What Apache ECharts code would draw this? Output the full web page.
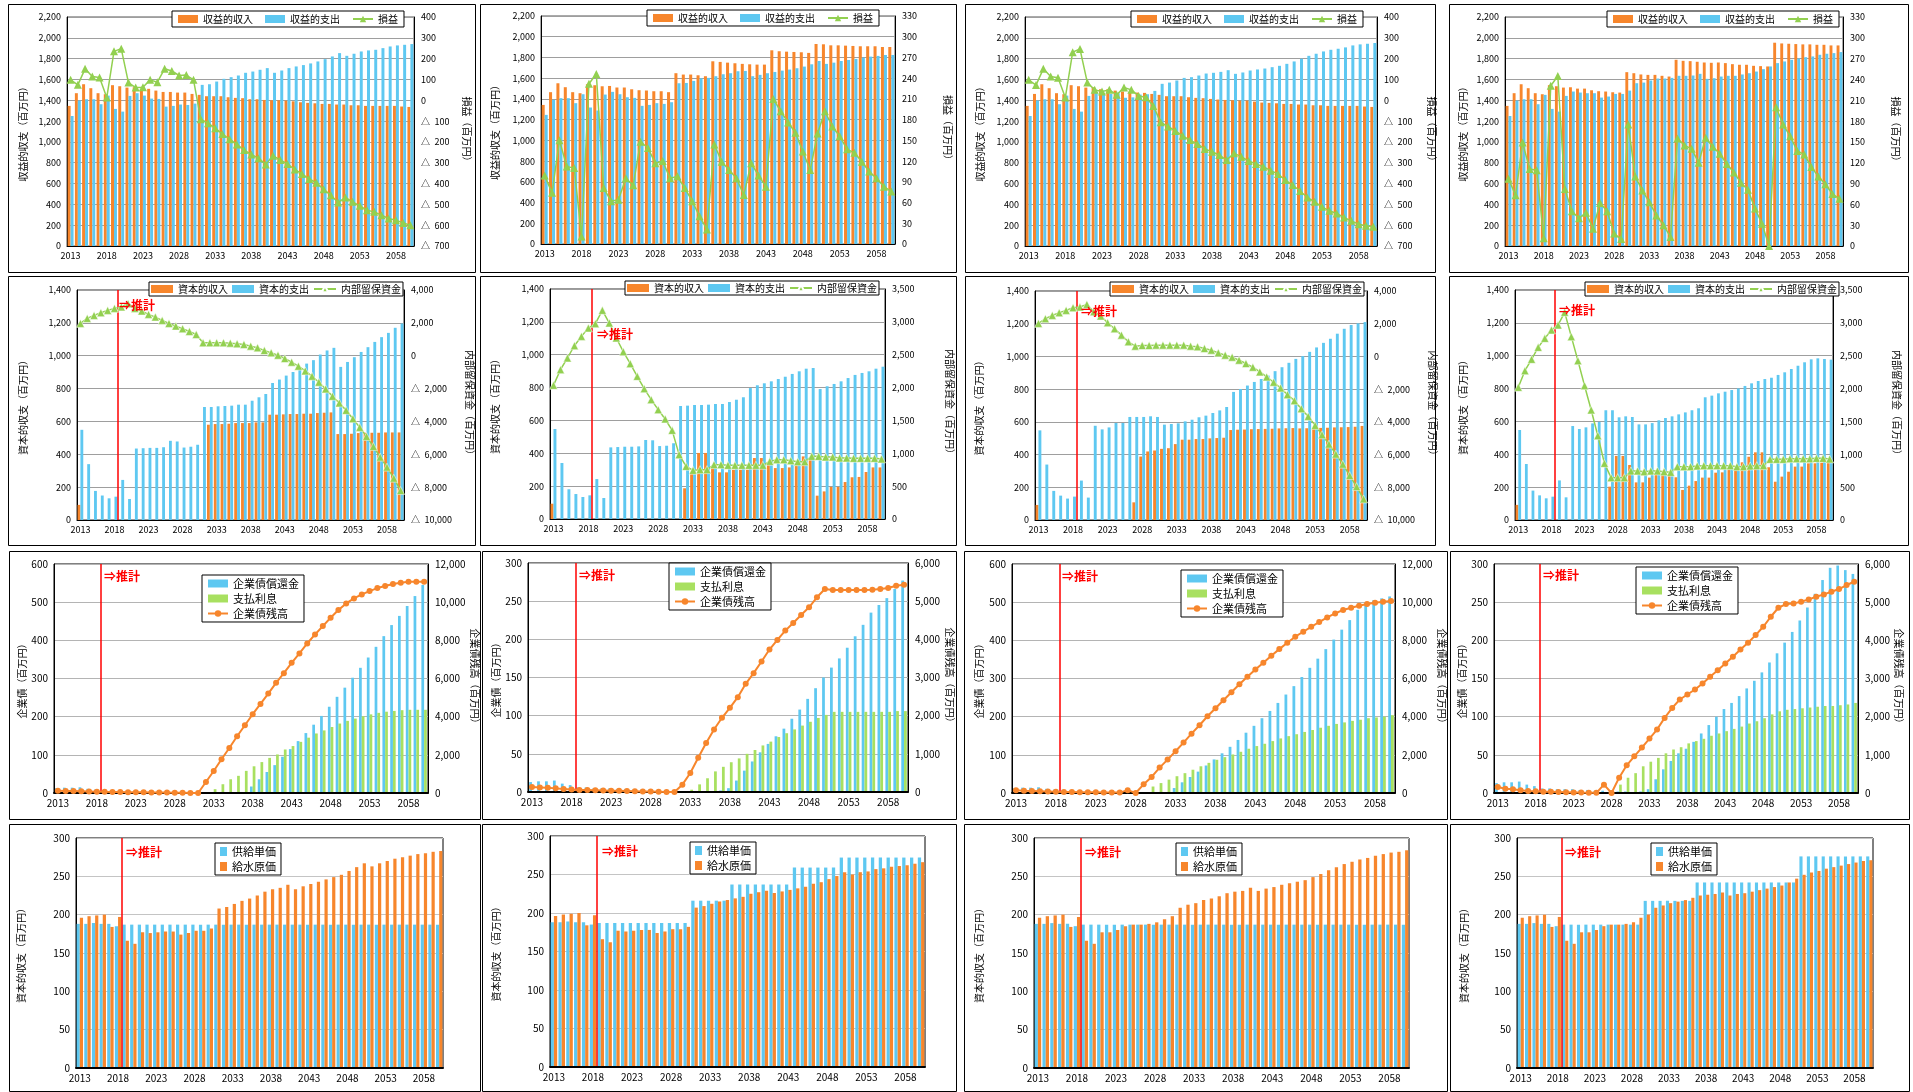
<!DOCTYPE html>
<html><head><meta charset="utf-8">
<script src="https://cdn.jsdelivr.net/npm/echarts/dist/echarts.min.js"></script>
<style>html,body{margin:0;padding:0;background:#fff;}#main{width:1913px;height:1092px;}</style>
</head><body><div id="main"></div>
<script>
const YEARS = ['2013','2014','2015','2016','2017','2018','2019','2020','2021','2022','2023','2024','2025','2026','2027','2028','2029','2030','2031','2032','2033','2034','2035','2036','2037','2038','2039','2040','2041','2042','2043','2044','2045','2046','2047','2048','2049','2050','2051','2052','2053','2054','2055','2056','2057','2058','2059','2060'];
const PROJ_BOUNDARY = 2018.5;
const EST_LABEL = '⇒推計';

// Row 1: 収益的収支
const INC_1 = [1346,1468,1554,1516,1468,1458,1545,1535,1522,1525, 1510,1510,1493,1480,1480,1474,1474,1461,1452,1439, 1439,1439,1429,1423,1420,1410,1410,1403,1400,1400, 1397,1390,1381,1375,1371,1365,1365,1359,1359,1352, 1352,1346,1346,1346,1346,1346,1340,1336];
const EXP_1 = [1249,1397,1410,1410,1362,1445,1317,1291,1442,1468, 1445,1416,1413,1339,1346,1359,1355,1368,1548,1554, 1580,1606,1622,1638,1664,1676,1693,1709,1664,1686, 1709,1725,1738,1754,1773,1795,1821,1853,1827,1847, 1869,1879,1885,1901,1917,1927,1933,1940];
const PL_1 = [98,74,151,114,109,13,235,248,85,61, 63,98,87,151,141,119,121,98,-91,-110, -134,-162,-187,-212,-239,-260,-279,-308,-266,-287, -306,-332,-354,-378,-396,-428,-456,-491,-467,-488, -507,-528,-536,-552,-568,-576,-589,-600];

const INC_2 = [1342,1465,1551,1513,1465,1455,1542,1532,1522,1525, 1510,1510,1493,1484,1481,1474,1474,1465,1648,1635, 1635,1628,1619,1763,1757,1750,1744,1738,1734,1731, 1731,1869,1860,1856,1853,1850,1844,1930,1927,1917, 1917,1914,1911,1908,1908,1908,1901,1901];
const EXP_2 = [1246,1391,1407,1407,1359,1445,1317,1288,1442,1468, 1445,1416,1410,1333,1342,1359,1352,1368,1551,1554, 1574,1599,1603,1619,1638,1648,1667,1670,1619,1632, 1648,1660,1673,1683,1696,1712,1734,1766,1738,1750, 1766,1776,1786,1798,1808,1815,1824,1824];
const PL_2 = [99,74,150,112,110,11,232,246,81,62, 64,95,85,148,139,117,120,95,98,81, 62,40,21,144,119,107,95,71,117,99, 83,210,192,176,161,134,107,160,192,170, 156,137,132,119,105,95,83,76];

const INC_3 = [1346,1461,1554,1516,1468,1458,1545,1535,1522,1525, 1506,1506,1493,1484,1474,1474,1471,1461,1452,1439, 1439,1439,1429,1423,1420,1413,1407,1403,1400,1397, 1397,1387,1378,1375,1371,1365,1365,1359,1359,1352, 1352,1346,1346,1346,1346,1346,1340,1336];
const EXP_3 = [1249,1397,1410,1410,1362,1445,1317,1291,1442,1477, 1466,1460,1467,1424,1428,1455,1458,1490,1558,1570, 1590,1615,1622,1638,1657,1664,1673,1689,1654,1667, 1686,1696,1705,1718,1731,1750,1773,1799,1827,1847, 1869,1885,1895,1908,1927,1937,1943,1950];
const PL_3 = [98,73,151,114,108,13,231,246,85,50, 42,50,26,61,50,21,15,-27,-106,-126, -147,-171,-191,-210,-234,-247,-263,-287,-255,-271, -292,-306,-319,-338,-354,-383,-407,-436,-467,-488, -512,-531,-544,-563,-579,-595,-603,-608];

const INC_4 = [1346,1468,1554,1516,1468,1458,1545,1535,1522,1525, 1512,1512,1496,1487,1484,1477,1474,1670,1660,1648, 1644,1644,1635,1628,1789,1779,1776,1770,1763,1760, 1763,1757,1747,1741,1741,1731,1728,1725,1953,1946, 1943,1940,1937,1937,1933,1933,1927,1927];
const EXP_4 = [1249,1397,1410,1410,1362,1452,1317,1291,1442,1484, 1474,1468,1468,1426,1436,1461,1461,1493,1564,1570, 1590,1609,1609,1615,1635,1635,1638,1654,1606,1612, 1628,1635,1635,1648,1660,1676,1699,1725,1757,1773, 1789,1801,1814,1821,1837,1847,1853,1863];
const PL_4 = [97,73,149,111,109,11,231,245,82,50, 40,48,25,62,50,18,10,175,100,80, 63,44,30,13,155,145,140,120,156,143, 133,118,106,91,81,54,32,0,200,175, 158,137,132,114,100,89,75,68];

// Row 2: 資本的収支
const CINC_5 = [92,0,0,0,0,0,0,0,0,0, 0,0,0,0,0,0,0,0,0,580, 584,584,586,590,590,590,594,594,641,641, 643,645,645,647,647,651,653,655,523,523, 525,529,531,531,531,533,533,533];
const CEXP_5 = [549,340,177,149,132,142,244,128,435,437, 439,439,443,482,478,441,446,458,688,688, 692,694,696,702,702,726,747,767,834,855, 879,901,926,952,973,1007,1032,1048,932,962, 991,1023,1052,1084,1113,1139,1170,1196];
const RET_5 = [1965,2271,2454,2617,2759,2881,2970,3170,2881,2718, 2515,2352,2148,1965,1803,1640,1477,1294,785,785, 785,785,765,724,684,582,480,317,175,32, -171,-395,-639,-924,-1249,-1615,-2022,-2470,-2877,-3325, -3833,-4362,-4912,-5522,-6173,-6783,-7455,-8208];

const CINC_6 = [93,0,0,0,0,0,0,0,0,0, 0,0,0,0,0,0,0,0,0,187, 284,402,402,310,284,284,300,300,300,371, 371,331,310,310,314,325,381,361,142,168, 195,195,225,254,256,286,314,314];
const CEXP_6 = [548,341,181,152,134,144,243,128,436,438, 440,440,442,481,479,444,446,461,688,690, 694,694,696,700,700,712,726,741,797,814, 826,838,852,866,883,899,915,919,791,808, 822,838,858,877,889,899,915,927];
const RET_6 = [2034,2272,2450,2637,2779,2906,2972,3175,2982,2754, 2546,2364,2171,1983,1816,1664,1522,1349,979,801, 740,751,751,827,827,817,817,817,817,817, 817,877,903,903,888,872,872,953,953,943, 943,928,928,923,923,923,923,913];

const CINC_7 = [92,0,0,0,0,0,0,0,0,0, 0,0,0,0,108,388,419,425,435,439, 464,491,491,495,495,499,501,503,550,552, 553,555,556,557,558,560,561,562,560,561, 562,563,564,566,567,568,570,575];
const CEXP_7 = [548,339,178,149,131,143,241,137,576,554, 566,593,593,630,630,630,634,630,583,587, 591,603,613,628,638,654,670,691,783,801, 822,844,862,883,910,934,961,985,1002,1028, 1055,1083,1108,1139,1169,1192,1202,1210];
const RET_7 = [2017,2303,2508,2671,2814,2978,3019,3182,2733,2467, 2058,1690,1302,893,627,668,668,689,689,689, 689,689,627,587,484,382,219,76,-47,-231, -435,-660,-946,-1253,-1580,-1928,-2336,-2704,-3195,-3665, -4217,-4789,-5362,-5975,-6588,-7283,-7957,-8714];

const CINC_8 = [92,0,0,0,0,0,0,0,0,0, 0,0,0,0,203,390,390,335,229,229, 258,278,274,270,260,183,209,237,258,258, 288,290,308,308,351,385,412,412,321,233, 264,294,325,325,345,345,349,349];
const CEXP_8 = [548,341,179,150,132,142,241,138,572,554, 564,588,597,668,668,625,631,627,582,582, 590,607,621,631,643,655,668,680,747,757, 771,781,791,801,816,832,846,858,866,883, 899,919,939,960,978,984,980,976];
const RET_8 = [2019,2272,2445,2627,2764,2891,2967,3160,2790,2424, 2044,1674,1283,862,644,644,644,746,746,735, 746,746,735,725,812,812,812,822,827,827, 827,827,827,812,812,822,827,827,923,923, 923,933,933,933,933,938,938,928];

// Row 3: 企業債
const RED_9 = [13,14,14,15,11,9,6,6,5,5, 5,4,4,3,3,3,2,2,1,0, 0,0,0,0,0,17,36,55,73,95, 115,136,157,179,202,226,252,276,302,328, 355,383,411,440,464,490,516,545];
const INT_9 = [0,0,0,0,0,0,0,0,0,0, 0,0,0,0,0,0,0,0,0,0, 10,23,36,45,58,70,81,92,101,114, 123,134,145,156,164,173,182,189,195,201, 206,210,213,215,217,218,218,218];
const BAL_9 = [120,110,100,90,80,70,60,55,50,45, 40,35,30,25,20,15,10,5,0,577, 1154,1766,2361,2973,3550,4128,4670,5212,5772,6279, 6821,7311,7835,8308,8745,9182,9585,9934,10197,10407, 10581,10739,10844,10949,11019,11071,11071,11071];

const RED_10 = [13,14,14,15,11,9,6,6,5,5, 5,4,4,3,3,3,2,2,1,0, 0,0,0,0,2,5,15,28,40,52, 63,73,83,96,108,122,136,150,163,175, 189,204,219,235,245,254,266,277];
const INT_10 = [0,0,0,0,0,0,0,0,0,0, 0,0,0,0,0,0,0,0,0,0, 3,10,18,27,33,39,44,50,55,61, 66,72,77,82,87,92,97,101,105,105, 105,105,105,105,105,105,106,106];
const BAL_10 = [130,120,110,95,80,65,55,50,45,40, 35,30,25,20,15,10,5,0,0,192, 497,898,1282,1639,1945,2206,2485,2834,3113,3418, 3732,3985,4229,4430,4639,4840,5101,5319,5293,5293, 5293,5293,5293,5302,5319,5345,5406,5432];

const RED_11 = [13,14,14,15,11,9,6,6,5,5, 5,4,4,3,3,3,2,2,1,0, 13,28,42,56,72,88,104,121,139,158, 176,196,215,236,258,280,304,328,352,377, 402,428,453,480,496,505,510,515];
const INT_11 = [0,0,0,0,0,0,0,0,0,0, 0,0,0,0,0,0,0,17,26,35, 44,52,61,70,79,87,94,101,108,116, 123,129,136,143,149,154,160,165,171,176, 181,185,189,192,196,198,200,204];
const BAL_11 = [140,120,110,95,80,65,55,50,45,40, 35,30,25,20,150,0,455,840,1330,1750, 2190,2640,3110,3550,4020,4440,4860,5280,5700,6090, 6470,6820,7190,7540,7870,8190,8450,8710,8960,9200, 9410,9590,9710,9810,9900,9970,10020,10060];

const RED_12 = [13,14,14,15,11,9,6,6,5,5, 5,4,4,3,3,3,2,2,1,2, 5,18,31,42,52,58,67,78,89,100, 110,118,127,137,147,158,171,183,197,211, 226,243,261,279,295,298,292,287];
const INT_12 = [0,0,0,0,0,0,0,0,0,0, 0,0,0,0,0,0,11,20,26,35, 41,46,52,57,60,65,68,71,75,78, 81,84,87,91,94,98,103,107,109,110, 111,112,113,114,114,115,116,118];
const BAL_12 = [157,114,96,70,52,44,35,30,25,20, 15,10,8,5,219,0,402,726,962,1189, 1426,1662,1968,2230,2449,2580,2711,2869,3044,3219, 3393,3568,3761,3936,4137,4355,4618,4854,4950,4968, 5011,5073,5143,5204,5274,5344,5449,5536];

// Row 4: 供給単価 / 給水原価
const SUP_13 = [188,188,189,188,188,185,187,187,187,187, 187,187,187,187,187,187,187,187,187,187, 187,187,187,187,187,187,187,187,187,187, 187,187,187,187,187,187,187,187,187,187, 187,187,187,187,187,187,187,187];
const COST_13 = [196,198,199,200,184,197,166,162,177,176, 177,178,178,174,176,179,179,182,208,210, 214,218,221,225,230,233,235,239,233,237, 240,243,246,249,252,257,262,267,263,267, 270,273,275,277,279,280,282,283];
const SUP_14 = [188,188,189,188,188,185,187,187,187,187, 187,187,187,187,187,187,187,187,216,216, 216,216,216,237,237,237,237,237,237,237, 237,259,259,259,259,259,259,272,272,272, 272,272,272,272,272,272,272,272];
const COST_14 = [196,198,199,200,184,197,166,162,177,176, 177,178,178,174,176,179,179,182,207,209, 212,215,217,219,221,225,227,229,226,228, 230,232,234,238,240,244,248,253,250,253, 254,257,258,260,261,262,264,266];
const SUP_15 = [188,188,189,188,188,185,187,187,187,187, 187,187,187,187,187,187,187,187,187,187, 187,187,187,187,187,187,187,187,187,187, 187,187,187,187,187,187,187,187,187,187, 187,187,187,187,187,187,187,187];
const COST_15 = [196,198,199,200,184,197,166,162,177,177, 180,185,187,187,188,190,194,198,209,213, 215,219,221,224,228,230,231,235,231,234, 236,239,241,243,245,249,253,258,262,266, 269,272,274,277,279,281,282,284];
const SUP_16 = [188,188,189,188,188,185,187,187,187,187, 187,187,187,187,187,187,187,218,218,218, 218,218,218,218,242,242,242,242,242,242, 242,242,242,242,242,242,242,242,276,276, 276,276,276,276,276,276,276,276];
const COST_16 = [196,198,199,200,184,197,166,162,177,177, 180,185,187,187,188,190,196,200,209,212, 215,217,219,222,225,226,227,229,225,227, 228,230,232,234,236,238,242,247,252,255, 257,260,262,264,266,268,270,271];

// ---------------- styling / layout ----------------
const FONT = '"Noto Sans CJK JP","Noto Sans",sans-serif';
const COL = {orange:'#F7862C', blue:'#5EC8F1', green:'#92D050', greenBar:'#A8E060', red:'#FF0000'};
const fmt = v => (v < 0 ? '△\u2002' : '') + Math.abs(v).toLocaleString('en-US');

const option = {animation:false, backgroundColor:'#fff', textStyle:{fontFamily:FONT},
  grid:[], xAxis:[], yAxis:[], series:[], legend:[], graphic:[]};

function addPanel(c) {
  const gi = option.grid.length;
  option.grid.push({left:c.g[0], top:c.g[1], width:c.g[2], height:c.g[3], show:true,
    borderColor:c.border, borderWidth:1, outerBoundsMode:'none', containLabel:false});
  const xi = option.xAxis.length;
  option.xAxis.push({type:'category', gridIndex:gi, data:YEARS,
    axisLabel:{interval:4, fontSize:c.fs, color:'#000', margin:5, fontFamily:FONT},
    axisTick:{show:false}, axisLine:{show:true, lineStyle:{color:'#000', width:c.xw}}, splitLine:{show:false}, z:5});
  let xv = null;
  if (c.proj) {
    xv = option.xAxis.length;
    option.xAxis.push({type:'value', gridIndex:gi, min:2012.5, max:2060.5, show:false});
  }
  const yl = option.yAxis.length;
  option.yAxis.push({type:'value', gridIndex:gi, position:'left', min:c.L[0], max:c.L[1], interval:c.L[2],
    name:c.lname, nameLocation:'middle', nameRotate:90, nameGap:c.ln,
    nameTextStyle:{fontSize:c.nfs, color:'#000', fontFamily:FONT},
    axisLabel:{formatter:fmt, fontSize:c.fs, color:'#000', margin:6, fontFamily:FONT},
    axisLine:{show:true, lineStyle:{color:'#000'}}, axisTick:{show:false},
    splitLine:{show:true, lineStyle:{color:c.gridColor, width:1}}});
  let yr = null;
  if (c.R) {
    yr = option.yAxis.length;
    option.yAxis.push({type:'value', gridIndex:gi, position:'right', min:c.R[0], max:c.R[1], interval:c.R[2],
      name:c.rname, nameLocation:'middle', nameRotate:-90, nameGap:c.rn,
      nameTextStyle:{fontSize:c.nfs, color:'#000', fontFamily:FONT},
      axisLabel:{formatter:fmt, fontSize:c.fs, color:'#000', margin:7, fontFamily:FONT},
      axisLine:{show:true, lineStyle:{color:'#000'}}, axisTick:{show:false}, splitLine:{show:false}});
  }
  c.bars.forEach(b => {
    option.series.push({type:'bar', name:b.name, xAxisIndex:xi, yAxisIndex:yl, data:b.data,
      itemStyle:{color:b.color}, barGap:'0%', barCategoryGap:c.catGap});
  });
  if (c.line) {
    const l = c.line;
    option.series.push({type:'line', name:l.name, xAxisIndex:xi, yAxisIndex:yr, data:l.data,
      symbol:l.symbol, symbolSize:l.size, showSymbol:true, showAllSymbol:true,
      lineStyle:{color:l.color, width:l.width}, itemStyle:{color:l.color, borderColor:l.border || l.color, borderWidth:l.bw || 0}, z:6});
  }
  if (c.proj) {
    option.series.push({type:'line', name:'proj', xAxisIndex:xv, yAxisIndex:yl, data:[], silent:true,
      markLine:{silent:true, symbol:['none','none'], label:{show:false}, animation:false,
        lineStyle:{color:COL.red, width:1.5, type:'solid'}, data:[{xAxis:PROJ_BOUNDARY}]}, z:4});
    option.graphic.push({type:'text', x:c.est[0], y:c.est[1], z:100, silent:true,
      style:{text:EST_LABEL, fill:COL.red, fontSize:12, fontWeight:'bold', fontFamily:FONT, verticalAlign:'top', textVerticalAlign:'top'}});
  }
  option.legend.push({left:c.leg[0], top:c.leg[1], orient:c.lorient, backgroundColor:'#fff',
    borderColor:'#000', borderWidth:1, borderRadius:0, padding:c.lpad, itemGap:c.lgap,
    itemWidth:c.iw, itemHeight:c.ih, selectedMode:false, z:20,
    textStyle:{fontSize:c.lfs, color:'#000', fontFamily:FONT}, data:c.ldata});
  option.graphic.push({type:'rect', silent:true, z:-10,
    shape:{x:c.box[0]+0.5, y:c.box[1]+0.5, width:c.box[2]-c.box[0], height:c.box[3]-c.box[1]},
    style:{fill:'none', stroke:'#000', lineWidth:1}});
}

// Row 1
const R1 = [
  {g:[67,17,347,229], R:[-700,400,100], ln:39, rn:48, leg:[172,11], box:[8,4,475,272], d:[INC_1,EXP_1,PL_1]},
  {g:[541,16,354,228], R:[0,330,30], ln:41, rn:48, leg:[647,10], box:[480,4,956,272], d:[INC_2,EXP_2,PL_2]},
  {g:[1025,17,352,229], R:[-700,400,100], ln:40, rn:50, leg:[1131,11], box:[965,4,1435,272], d:[INC_3,EXP_3,PL_3]},
  {g:[1505,17,338,229], R:[0,330,30], ln:37, rn:48, leg:[1607,11], box:[1449,4,1908,272], d:[INC_4,EXP_4,PL_4]}
];
R1.forEach(p => addPanel({g:p.g, border:'#555', fs:9, nfs:10, xw:1, L:[0,2200,200], R:p.R,
  lname:'収益的収支（百万円）', rname:'損益（百万円）', ln:p.ln, rn:p.rn, gridColor:'#9E9E9E', catGap:'18%',
  bars:[{name:'収益的収入', data:p.d[0], color:COL.orange},{name:'収益的支出', data:p.d[1], color:COL.blue}],
  line:{name:'損益', data:p.d[2], symbol:'triangle', size:8, color:COL.green, width:1.5},
  leg:p.leg, lorient:'horizontal', lpad:[3,6], lgap:12, iw:20, ih:8, lfs:10,
  ldata:[{name:'収益的収入', icon:'rect'},{name:'収益的支出', icon:'rect'},{name:'損益'}], box:p.box}));

// Row 2
const R2 = [
  {g:[77,290,327,230], R:[-10000,4000,2000], ln:49, rn:61, leg:[149,282], box:[8,276,475,545], est:[119,299], d:[CINC_5,CEXP_5,RET_5]},
  {g:[550,289,335,230], R:[0,3500,500], ln:50, rn:60, leg:[625,281], box:[480,276,956,545], est:[597,328], d:[CINC_6,CEXP_6,RET_6]},
  {g:[1035,291,332,229], R:[-10000,4000,2000], ln:51, rn:61, leg:[1110,282], box:[965,276,1435,545], est:[1081,305], d:[CINC_7,CEXP_7,RET_7]},
  {g:[1515,290,318,230], R:[0,3500,500], ln:47, rn:59, leg:[1585,282], box:[1449,276,1908,545], est:[1559,304], d:[CINC_8,CEXP_8,RET_8]}
];
R2.forEach(p => addPanel({g:p.g, border:'#333', fs:9, nfs:10, xw:1, L:[0,1400,200], R:p.R,
  lname:'資本的収支（百万円）', rname:'内部留保資金（百万円）', ln:p.ln, rn:p.rn, gridColor:'#9E9E9E', catGap:'16%',
  bars:[{name:'資本的収入', data:p.d[0], color:COL.orange},{name:'資本的支出', data:p.d[1], color:COL.blue}],
  line:{name:'内部留保資金', data:p.d[2], symbol:'triangle', size:8, color:COL.green, width:1.5, border:'#fff', bw:0.5},
  proj:true, est:p.est,
  leg:p.leg, lorient:'horizontal', lpad:[2,2], lgap:4, iw:22, ih:8, lfs:10,
  ldata:[{name:'資本的収入', icon:'rect'},{name:'資本的支出', icon:'rect'},{name:'内部留保資金'}], box:p.box}));

// Row 3
const R3 = [
  {g:[54,564,374,229], L:[0,600,100], R:[0,12000,2000], ln:26, rn:34, leg:[202,575], box:[9,551,480,819], est:[104,570], d:[RED_9,INT_9,BAL_9]},
  {g:[528,563,380,229], L:[0,300,50], R:[0,6000,1000], ln:25, rn:37, leg:[669,563], box:[482,551,956,819], est:[579,569], d:[RED_10,INT_10,BAL_10]},
  {g:[1012,564,383,229], L:[0,600,100], R:[0,12000,2000], ln:28, rn:34, leg:[1181,570], box:[964,551,1447,819], est:[1062,570], d:[RED_11,INT_11,BAL_11]},
  {g:[1494,564,364,229], L:[0,300,50], R:[0,6000,1000], ln:24, rn:36, leg:[1636,567], box:[1450,551,1909,819], est:[1543,569], d:[RED_12,INT_12,BAL_12]}
];
R3.forEach(p => addPanel({g:p.g, border:'#000', fs:10, nfs:10, xw:2, L:p.L, R:p.R,
  lname:'企業債（百万円）', rname:'企業債残高（百万円）', ln:p.ln, rn:p.rn, gridColor:'#B4B4B4', catGap:'30%',
  bars:[{name:'企業債償還金', data:p.d[0], color:COL.blue},{name:'支払利息', data:p.d[1], color:COL.greenBar}],
  line:{name:'企業債残高', data:p.d[2], symbol:'circle', size:6, color:COL.orange, width:2},
  proj:true, est:p.est,
  leg:p.leg, lorient:'vertical', lpad:[3,5], lgap:4, iw:20, ih:8, lfs:11,
  ldata:[{name:'企業債償還金', icon:'rect'},{name:'支払利息', icon:'rect'},{name:'企業債残高'}], box:p.box}));

// Row 4
const R4 = [
  {g:[76,838,367,230], ln:50, leg:[215,843], box:[9,824,480,1091], est:[126,846], d:[SUP_13,COST_13]},
  {g:[550,836,375,231], ln:49, leg:[690,842], box:[482,824,956,1091], est:[602,845], d:[SUP_14,COST_14]},
  {g:[1034,838,375,230], ln:50, leg:[1176,843], box:[964,824,1447,1091], est:[1085,846], d:[SUP_15,COST_15]},
  {g:[1517,838,356,230], ln:48, leg:[1651,843], box:[1450,824,1909,1091], est:[1565,846], d:[SUP_16,COST_16]}
];
R4.forEach(p => addPanel({g:p.g, border:'#000', fs:10, nfs:10, xw:2, L:[0,300,50], R:null,
  lname:'資本的収支（百万円）', ln:p.ln, gridColor:'#C4C4C4', catGap:'16%',
  bars:[{name:'供給単価', data:p.d[0], color:COL.blue},{name:'給水原価', data:p.d[1], color:COL.orange}],
  line:null, proj:true, est:p.est,
  leg:p.leg, lorient:'vertical', lpad:[3,5], lgap:4, iw:7, ih:9, lfs:11,
  ldata:[{name:'供給単価', icon:'rect'},{name:'給水原価', icon:'rect'}], box:p.box}));

const chart = echarts.init(document.getElementById('main'), null, {renderer:'canvas'});
chart.setOption(option);
</script></body></html>
